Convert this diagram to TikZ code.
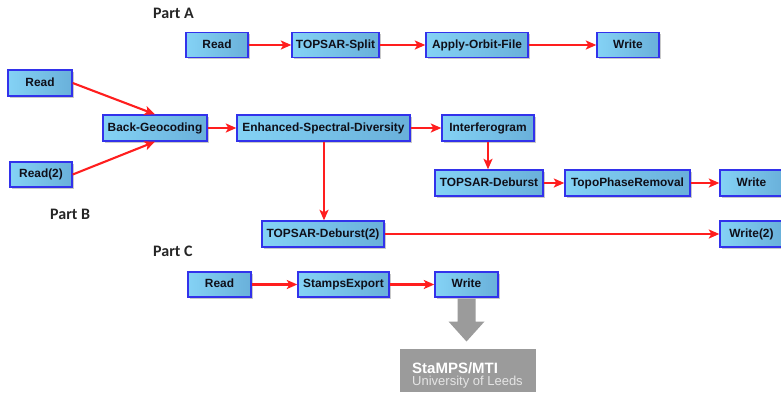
\documentclass[tikz,border=0pt]{standalone}
\usepackage{fontspec}
\newfontfamily\boxfont{Liberation Sans}
\newfontfamily\partfont{Carlito}
\usetikzlibrary{arrows.meta,shadows}
\definecolor{boxL}{RGB}{132,210,245}
\definecolor{boxR}{RGB}{105,176,218}
\definecolor{boxB}{RGB}{50,50,235}
\definecolor{arr}{RGB}{255,30,30}
\definecolor{bigg}{RGB}{155,155,155}
\definecolor{txtdark}{RGB}{15,15,25}
\begin{document}
\begin{tikzpicture}[x=1pt,y=-1pt,
 op/.style={draw=boxB, line width=1.4pt, left color=boxL, right color=boxR,
   minimum height=25pt, inner sep=0pt, text height=8.6pt, text depth=2.3pt,
   font=\boxfont\bfseries\fontsize{11.9}{12}\selectfont, text=txtdark,
   drop shadow={shadow xshift=1.6pt, shadow yshift=-1.6pt, opacity=0.35, fill=black!60}},
 flow/.style={draw=arr, line width=2.1pt, -{Stealth[length=10.5pt,width=9pt,inset=2.5pt]}},
 part/.style={font=\partfont\bfseries\fontsize{16}{18}\selectfont, text=black!85, anchor=base west, inner sep=0pt}]
\clip (0,0) rectangle (781,394);
\fill[white] (0,0) rectangle (781,394);

% labels
\node[part] (pA) at (153,18) {Part A};
\node[part] (pB) at (50,219) {Part B};
\node[part] (pC) at (153,256) {Part C};

% Part A
\node[op, minimum width=62pt] (a1) at (217,45) {Read};
\node[op, minimum width=87pt] (a2) at (335.5,45) {TOPSAR-Split};
\node[op, minimum width=102pt] (a3) at (477,45) {Apply-Orbit-File};
\node[op, minimum width=62pt] (a4) at (628,45) {Write};

% Part B
\node[op, minimum width=64pt, minimum height=26pt] (b1) at (40,83) {Read};
\node[op, minimum width=62pt] (b2) at (41,174.5) {Read(2)};
\node[op, minimum width=104pt, minimum height=26pt] (b3) at (155,128) {Back-Geocoding};
\node[op, minimum width=173pt, minimum height=26pt] (b4) at (323.5,128) {Enhanced-Spectral-Diversity};
\node[op, minimum width=92pt, minimum height=26pt] (b5) at (488,128) {Interferogram};
\node[op, minimum width=108pt, minimum height=26pt] (b6) at (489,183) {TOPSAR-Deburst};
\node[op, minimum width=125pt, minimum height=26pt] (b7) at (627.5,183) {TopoPhaseRemoval};
\node[op, minimum width=63pt, minimum height=26pt] (b8) at (751.5,183) {Write};
\node[op, minimum width=122pt, minimum height=26pt] (b10) at (323,234) {TOPSAR-Deburst(2)};
\node[op, minimum width=63pt, minimum height=26pt] (b9) at (751.5,234) {Write(2)};

% Part C
\node[op, minimum width=63pt] (c1) at (219.5,284.5) {Read};
\node[op, minimum width=91pt] (c2) at (343.5,284.5) {StampsExport};
\node[op, minimum width=63pt] (c3) at (466.5,284.5) {Write};

% StaMPS box
\node[fill=bigg, minimum width=136pt, minimum height=43pt, inner sep=0pt] (sm) at (468,370.5) {};
\node[anchor=base west, inner sep=0pt, text=white, font=\boxfont\bfseries\fontsize{15}{16}\selectfont] (sm1) at (412,373) {StaMPS/MTI};
\node[anchor=base west, inner sep=0pt, text=black!10, font=\boxfont\fontsize{13}{14}\selectfont] (sm2) at (412,385.5) {University of Leeds};

% connectors
\draw[flow] (a1) -- (a2);
\draw[flow] (a2) -- (a3);
\draw[flow] (a3) -- (a4);

\draw[flow] (b1.east) -- (b3.north);
\draw[flow] (b2.east) -- (b3.south);
\draw[flow] (b3) -- (b4);
\draw[flow] (b4) -- (b5);
\draw[flow] (b5.south) -- (b5.south |- b6.north);
\draw[flow] (b6) -- (b7);
\draw[flow] (b7) -- (b8);
\draw[flow] ([xshift=0.5pt]b4.south) -- ([xshift=0.5pt]b4.south |- b10.north);
\draw[flow] (b10) -- (b9);

\draw[flow] (c1) -- (c2);
\draw[flow] (c2) -- (c3);

% big gray arrow
\fill[bigg] ([xshift=-9pt, yshift=-0.8pt]c3.south) -- ++(18,0) -- ++(0,23) -- ++(9,0)
  -- ++(-18,20) -- ++(-18,-20) -- ++(9,0) -- cycle;
\end{tikzpicture}
\end{document}
